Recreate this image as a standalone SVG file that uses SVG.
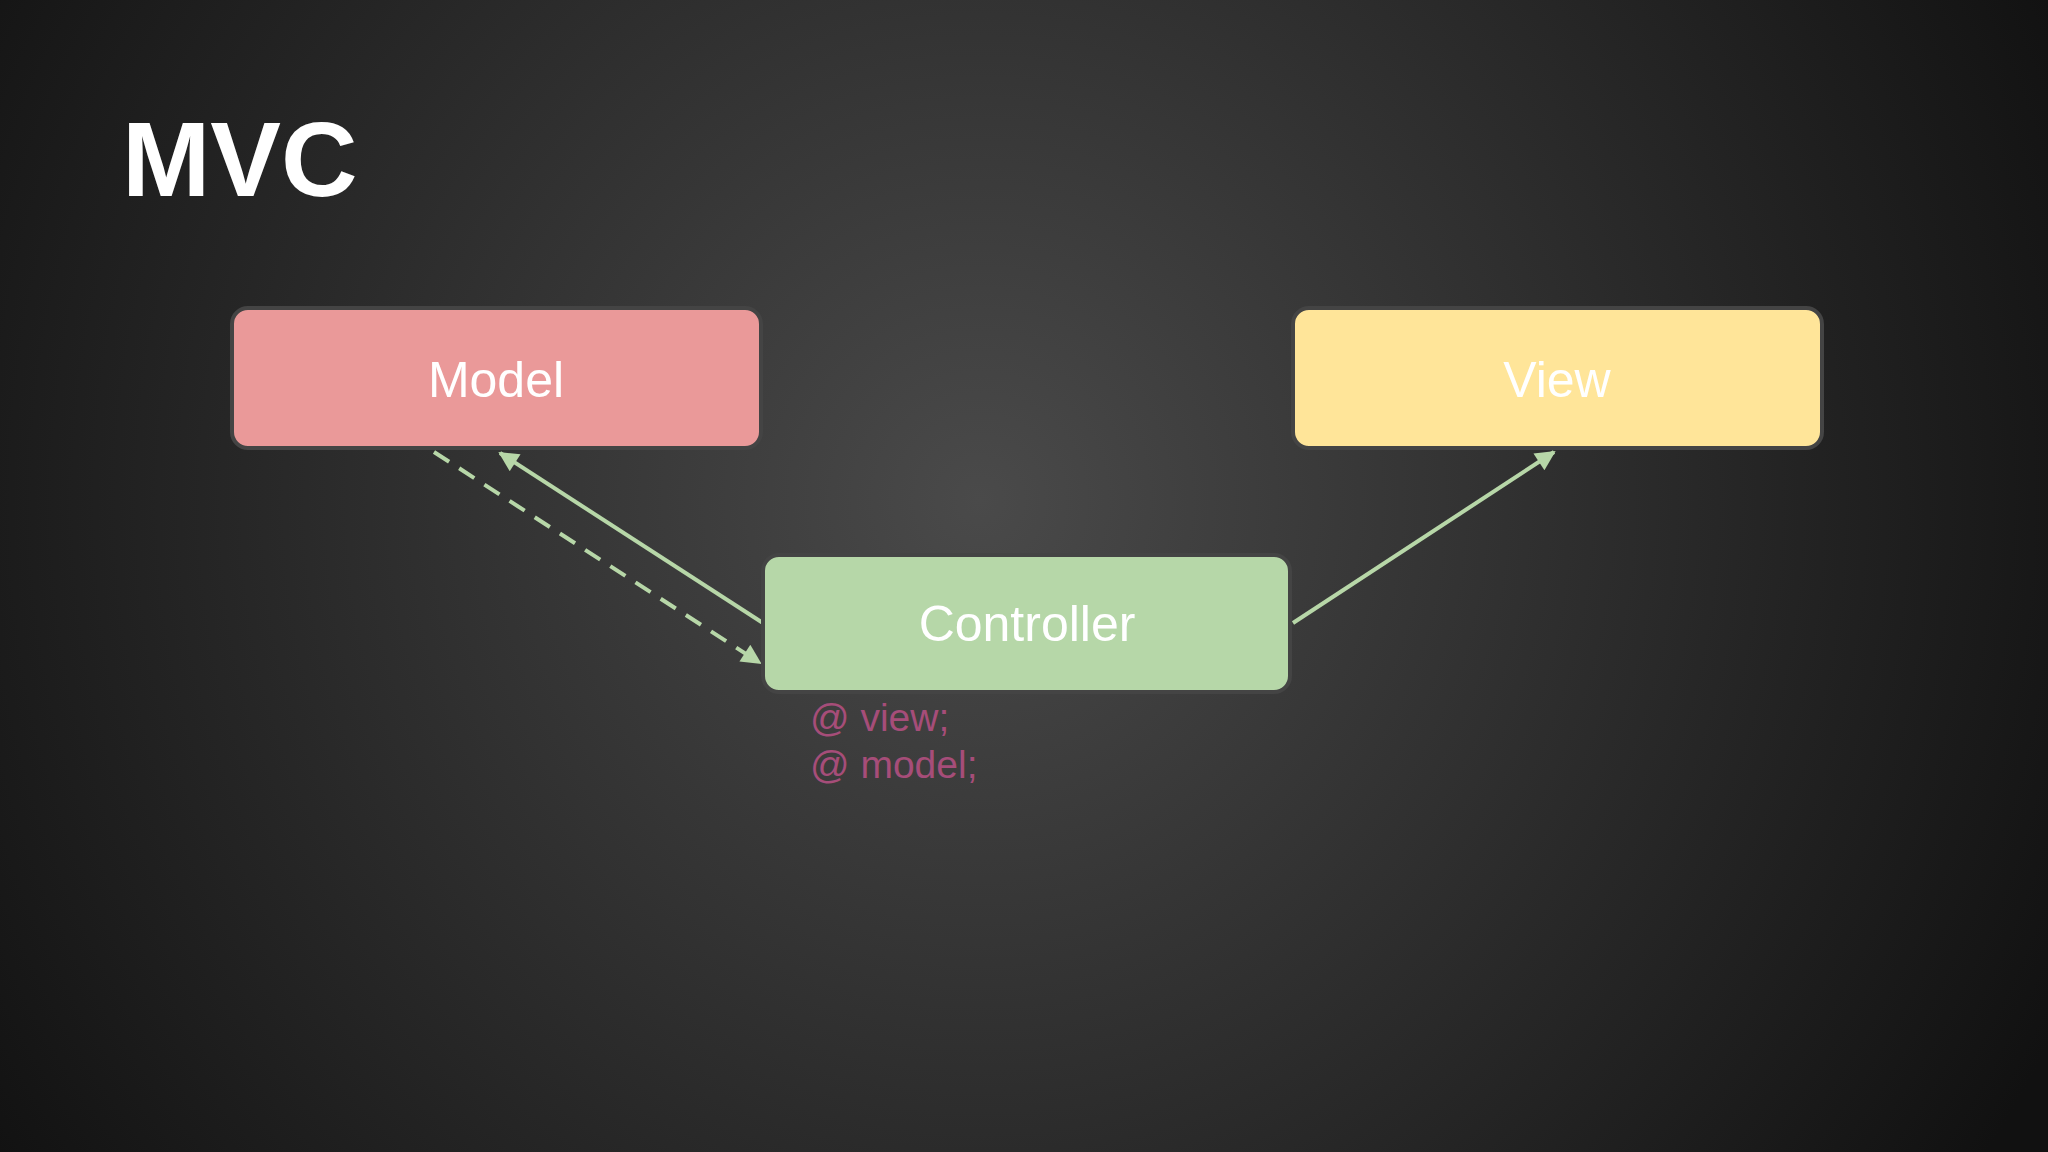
<svg xmlns="http://www.w3.org/2000/svg" width="2048" height="1152" viewBox="0 0 2048 1152">
<defs>
<radialGradient id="bg" cx="980" cy="500" r="1200" gradientUnits="userSpaceOnUse">
<stop offset="0" stop-color="#4a4a4a"/><stop offset="1" stop-color="#111"/>
</radialGradient>
<marker id="ah" markerWidth="10" markerHeight="10" refX="9" refY="5" orient="auto" markerUnits="userSpaceOnUse" viewBox="0 0 10 10">
<path d="M0,0 L10,5 L0,10 z" fill="#b7d7a8"/>
</marker>
<marker id="a" viewBox="0 0 10 10" refX="9" refY="5" markerWidth="24" markerHeight="20" orient="auto" markerUnits="userSpaceOnUse"><path d="M0,0 L10,5 L0,10 z" fill="#b7d7a8"/></marker>
</defs>
<style>
.box{stroke:#444;stroke-width:4}
.lbl{font-family:"Liberation Sans",Arial,sans-serif;font-size:50px;fill:#fff;text-anchor:middle}
.c{stroke:#b7d7a8;stroke-width:4;fill:none}
.code{font-family:"Liberation Sans",Arial,sans-serif;font-size:39px;fill:#a64d79}
</style>
<rect width="2048" height="1152" fill="url(#bg)"/>
<text x="122" y="196" font-family="Liberation Sans,Arial,sans-serif" font-weight="bold" font-size="106" fill="#fff">MVC</text>
<g id="connectors">
<line class="c" x1="763" y1="623" x2="500" y2="453" marker-end="url(#a)"/>
<line class="c" x1="434" y1="452" x2="760" y2="663" stroke-dasharray="18,12" marker-end="url(#a)"/>
<line class="c" x1="1293" y1="623" x2="1554" y2="452" marker-end="url(#a)"/>
</g>
<g id="model"><rect class="box" x="232" y="308" width="529" height="140" rx="16" fill="#ea9999"/><text class="lbl" x="496" y="397">Model</text></g>
<g id="view"><rect class="box" x="1293" y="308" width="529" height="140" rx="16" fill="#ffe599"/><text class="lbl" x="1557" y="397">View</text></g>
<g id="controller"><rect class="box" x="763" y="555" width="527" height="137" rx="16" fill="#b6d7a8"/><text class="lbl" x="1027" y="641">Controller</text></g>
<g id="fields"><text class="code" x="810" y="731">@ view;</text><text class="code" x="810" y="778">@ model;</text></g>
</svg>
